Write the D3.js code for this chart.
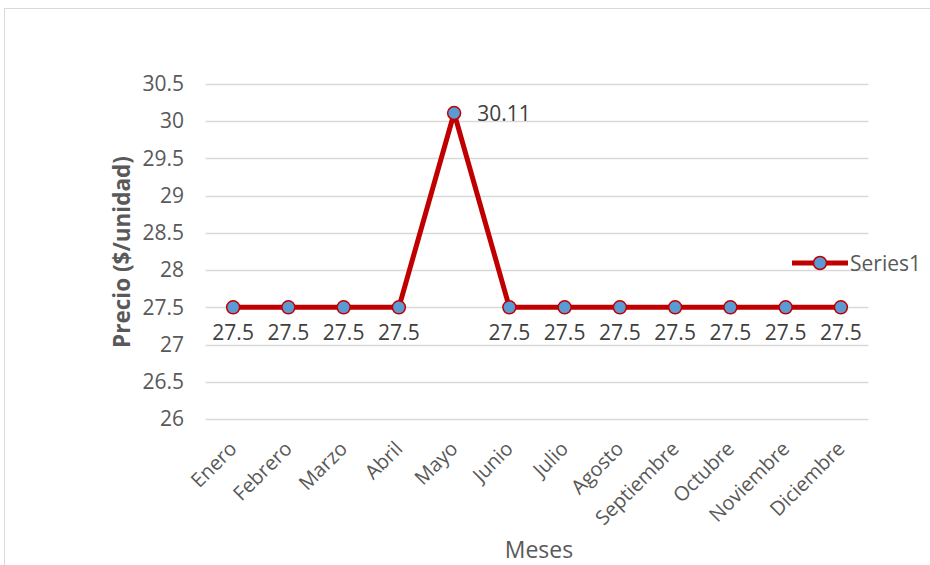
<!DOCTYPE html>
<html><head><meta charset="utf-8">
<script src="https://cdn.jsdelivr.net/npm/d3@7"></script>
<style>
body{margin:0;background:#fff;}
text{font-family:"Open Sans",sans-serif;fill:#595959;}
</style></head>
<body><svg id="c" width="930" height="565"></svg>
<script>
const months = ["Enero","Febrero","Marzo","Abril","Mayo","Junio","Julio","Agosto","Septiembre","Octubre","Noviembre","Diciembre"];
const prices = [27.5,27.5,27.5,27.5,30.11,27.5,27.5,27.5,27.5,27.5,27.5,27.5];
const yTicks = [26,26.5,27,27.5,28,28.5,29,29.5,30,30.5];
const seriesName = "Series1";
const yTitle = "Precio ($/unidad)";
const xTitle = "Meses";

(function(){
const svg = d3.select("#c");
svg.append("rect").attr("x",4.5).attr("y",8.5).attr("width",940).attr("height",600)
  .attr("fill","#fff").attr("stroke","#d9d9d9").attr("stroke-width",1);

const pL=205.5, pR=868.5, pT=84, pB=419;
const x = d3.scaleBand().domain(months).range([pL,pR]);
const y = d3.scaleLinear().domain([26,30.5]).range([pB,pT]);

svg.append("g").selectAll("line").data(yTicks).join("line")
  .attr("x1",pL).attr("x2",pR)
  .attr("y1",d=>Math.round(y(d))+0.5).attr("y2",d=>Math.round(y(d))+0.5)
  .attr("stroke","#d9d9d9").attr("stroke-width",1.5);

const yAxis = d3.axisLeft(y).tickValues(yTicks).tickSize(0).tickPadding(0).tickFormat(d3.format("~g"));
const ga = svg.append("g").attr("transform",`translate(184,0)`).call(yAxis);
ga.select(".domain").remove();
ga.selectAll("text").attr("font-size",21).attr("fill","#595959").attr("font-family","Open Sans");

const xAxis = d3.axisBottom(x).tickSize(0).tickPadding(0);
const gx = svg.append("g").attr("transform",`translate(0,${pB})`).call(xAxis);
gx.select(".domain").remove();
gx.selectAll("text").attr("font-size",20).attr("fill","#595959").attr("font-family","Open Sans")
  .attr("text-anchor","end").attr("dy",null).attr("y",0)
  .attr("transform","translate(5,31) rotate(-45)");

const cx = d=>x(d)+x.bandwidth()/2;
const data = months.map((m,i)=>({m, v:prices[i]}));
svg.append("path").datum(data)
  .attr("d", d3.line().x(d=>cx(d.m)).y(d=>y(d.v)))
  .attr("fill","none").attr("stroke","#C00000").attr("stroke-width",5).attr("stroke-linejoin","round");

svg.append("g").selectAll("circle").data(data).join("circle")
  .attr("cx",d=>cx(d.m)).attr("cy",d=>y(d.v)).attr("r",6.5)
  .attr("fill","#5B9BD5").attr("stroke","#C00000").attr("stroke-width",1.5);

svg.append("g").selectAll("text").data(data).join("text")
  .attr("x",d=> d.v>29 ? cx(d.m)+23 : cx(d.m))
  .attr("y",d=> d.v>29 ? y(d.v)+8 : y(d.v)+33)
  .attr("text-anchor",d=> d.v>29 ? "start":"middle")
  .attr("font-size",21).style("fill","#404040")
  .text(d=>d3.format("~g")(d.v));

svg.append("text").attr("transform",`translate(130,252) rotate(-90)`)
  .attr("text-anchor","middle").attr("font-size",22.5).attr("font-weight","bold").text(yTitle);
svg.append("text").attr("x",539).attr("y",558).attr("text-anchor","middle").attr("font-size",23).text(xTitle);

const lg = svg.append("g").attr("transform","translate(792,263)");
lg.append("line").attr("x1",0).attr("x2",56).attr("y1",0).attr("y2",0).attr("stroke","#C00000").attr("stroke-width",5);
lg.append("circle").attr("cx",28).attr("cy",0).attr("r",6.5).attr("fill","#5B9BD5").attr("stroke","#C00000").attr("stroke-width",1.5);
lg.append("text").attr("x",58).attr("y",7.5).attr("font-size",21).text(seriesName);
})();
</script></body></html>
